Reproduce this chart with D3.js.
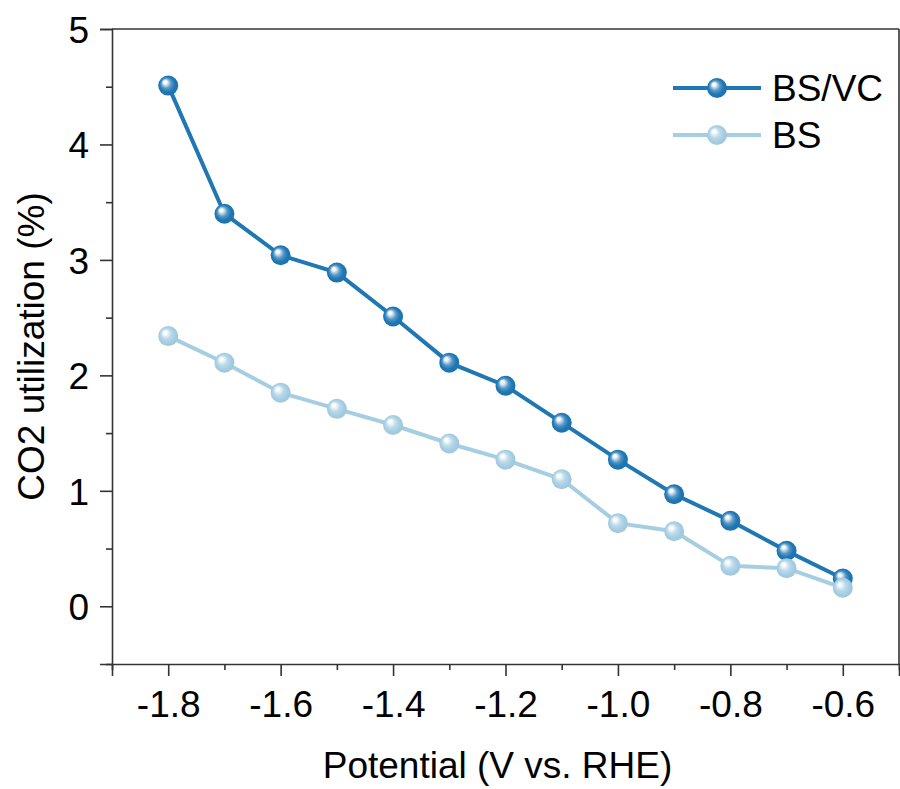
<!DOCTYPE html>
<html>
<head>
<meta charset="utf-8">
<script src="https://cdn.jsdelivr.net/npm/d3@7/dist/d3.min.js"></script>
<style>
  body { margin: 0; background: #fff; }
  svg { display: block; font-family: "Liberation Sans", Arial, sans-serif; }
</style>
</head>
<body>
<div id="chart"></div>
<script>
// potentials (V vs. RHE)
var potentials = [-1.8, -1.7, -1.6, -1.5, -1.4, -1.3, -1.2, -1.1, -1.0, -0.9, -0.8, -0.7, -0.6];
// CO2 utilization (%)
var bsvc = [4.51, 3.40, 3.04, 2.89, 2.51, 2.11, 1.91, 1.59, 1.27, 0.97, 0.74, 0.48, 0.24];
var bs   = [2.34, 2.11, 1.85, 1.71, 1.57, 1.41, 1.27, 1.10, 0.72, 0.65, 0.35, 0.33, 0.16];

var xTicks = [-1.8, -1.6, -1.4, -1.2, -1.0, -0.8, -0.6];
var xMinor = [-1.9, -1.7, -1.5, -1.3, -1.1, -0.9, -0.7, -0.5];
var yTicks = [0, 1, 2, 3, 4, 5];
var yMinor = [-0.5, 0.5, 1.5, 2.5, 3.5, 4.5];

var seriesNames = ["BS/VC", "BS"];
var seriesColors = ["#1f77b4", "#a6cee3"];

var W = 900, H = 789;
var margin = {top: 29, right: 1, bottom: 125, left: 112};
var width = W - margin.left - margin.right,
    height = H - margin.top - margin.bottom;

var svg = d3.select("#chart").append("svg")
    .attr("width", W)
    .attr("height", H);

var defs = svg.append("defs");
// shiny sphere gradients for the markers
seriesColors.forEach(function (c, i) {
    var g = defs.append("radialGradient")
        .attr("id", "ball" + i)
        .attr("cx", "50%").attr("cy", "50%").attr("r", "55%")
        .attr("fx", "32%").attr("fy", "30%");
    g.append("stop").attr("offset", "0%").attr("stop-color", "#ffffff");
    g.append("stop").attr("offset", "14%").attr("stop-color", "#ffffff").attr("stop-opacity", 0.95);
    g.append("stop").attr("offset", "45%").attr("stop-color", d3.interpolateRgb(c, "#ffffff")(0.25));
    g.append("stop").attr("offset", "70%").attr("stop-color", c);
    g.append("stop").attr("offset", "100%").attr("stop-color", d3.color(c).darker(0.15));
});

var x = d3.scaleLinear().domain([-1.9, -0.5]).range([0, width]);
var y = d3.scaleLinear().domain([-0.5, 5]).range([height, 0]);

var g = svg.append("g").attr("transform", "translate(" + margin.left + "," + margin.top + ")");

var axisColor = "#333";

// frame top and right
g.append("line").attr("x1", 0).attr("x2", width).attr("y1", 0).attr("y2", 0)
    .attr("stroke", axisColor).attr("stroke-width", 1.6);
g.append("line").attr("x1", width).attr("x2", width).attr("y1", 0).attr("y2", height)
    .attr("stroke", axisColor).attr("stroke-width", 1.6);

// plain hyphen instead of unicode minus
var fmtX = function (d) { return d.toFixed(1); };

// x axis
var xAxis = g.append("g").attr("transform", "translate(0," + height + ")")
    .call(d3.axisBottom(x).tickValues(xTicks).tickSize(12).tickPadding(12)
        .tickFormat(fmtX));
g.append("g").attr("transform", "translate(0," + height + ")")
    .call(d3.axisBottom(x).tickValues(xMinor).tickSize(6).tickFormat(""))
    .select(".domain").remove();

// y axis
var yAxis = g.append("g")
    .call(d3.axisLeft(y).tickValues(yTicks).tickSize(12).tickPadding(11)
        .tickFormat(function (d) { return String(d); }));
g.append("g")
    .call(d3.axisLeft(y).tickValues(yMinor).tickSize(6).tickFormat(""))
    .select(".domain").remove();

g.selectAll(".domain").attr("stroke", axisColor).attr("stroke-width", 1.6);
g.selectAll(".tick line").attr("stroke", axisColor).attr("stroke-width", 1.6);
g.selectAll(".tick text").attr("fill", "#000").style("font-size", "37px")
    .style("font-family", "'Liberation Sans', Arial, sans-serif");
xAxis.selectAll(".tick text").attr("dy", "0.78em");
yAxis.selectAll(".tick text").attr("dy", "0.36em");

// axis titles
svg.append("text")
    .attr("x", margin.left + width / 2 - 8)
    .attr("y", 778)
    .attr("text-anchor", "middle")
    .style("font-size", "37px")
    .text("Potential (V vs. RHE)");

svg.append("text")
    .attr("transform", "translate(44," + (margin.top + height / 2) + ") rotate(-90)")
    .attr("text-anchor", "middle")
    .style("font-size", "37px")
    .text("CO2 utilization (%)");

// series
var line = d3.line()
    .x(function (d) { return x(d[0]); })
    .y(function (d) { return y(d[1]); });

[bsvc, bs].forEach(function (vals, i) {
    var pts = potentials.map(function (p, k) { return [p, vals[k]]; });
    var sg = g.append("g");
    sg.append("path")
        .datum(pts)
        .attr("fill", "none")
        .attr("stroke", seriesColors[i])
        .attr("stroke-width", 4)
        .attr("d", line);
    sg.selectAll("circle")
        .data(pts)
        .enter().append("circle")
        .attr("cx", function (d) { return x(d[0]); })
        .attr("cy", function (d) { return y(d[1]); })
        .attr("r", 10)
        .attr("fill", "url(#ball" + i + ")");
});

// legend
var legend = svg.append("g");
seriesNames.forEach(function (name, i) {
    var ly = 88 + i * 47;
    legend.append("line")
        .attr("x1", 673).attr("x2", 761)
        .attr("y1", ly).attr("y2", ly)
        .attr("stroke", seriesColors[i]).attr("stroke-width", 4);
    legend.append("circle")
        .attr("cx", 717).attr("cy", ly).attr("r", 10)
        .attr("fill", "url(#ball" + i + ")");
    legend.append("text")
        .attr("x", 772).attr("y", ly)
        .attr("dy", "0.36em")
        .style("font-size", "37px")
        .text(name);
});
</script>
</body>
</html>
